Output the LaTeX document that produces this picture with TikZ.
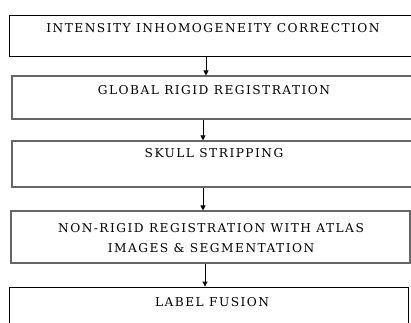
\documentclass[tikz,border=0pt]{standalone}
\usepackage{fontspec}
\setmainfont{DejaVu Serif}
\usetikzlibrary{arrows.meta}
\tikzstyle{stagebox}=[
    draw=black!60,
    line width=1.1pt,
    inner sep=0pt,
]
\tikzstyle{stagetext}=[
    font=\fontsize{12.2}{19.5}\selectfont\addfontfeature{LetterSpace=12},
    align=center,
    inner sep=0pt,
]
\tikzstyle{flow}=[
    ->, >={Triangle[width=5pt,length=5pt]},
    line width=0.9pt,
]

\begin{document}
\begin{tikzpicture}[x=1pt, y=-1pt]
        \useasboundingbox (0,0) rectangle (411,322);
        \clip (0,0) rectangle (411,322);
        \node[stagebox, draw=black, line width=0.9pt, minimum width=416pt, minimum height=41pt] (b1) at (217, 35.5) {};
        \node[stagebox, minimum width=413pt, minimum height=43pt] (b2) at (218.5, 97.5) {};
        \node[stagebox, minimum width=413pt, minimum height=46pt] (b3) at (218.5, 164) {};
        \node[stagebox, minimum width=399pt, minimum height=52pt] (b4) at (210.5, 237) {};
        \node[stagebox, draw=black, line width=0.9pt, minimum width=399pt, minimum height=46pt] (b5) at (208.5, 310) {};
        \node[stagetext] (t1) at (213, 28) {INTENSITY INHOMOGENEITY CORRECTION};
        \node[stagetext] (t2) at (214, 90.5) {GLOBAL RIGID REGISTRATION};
        \node[stagetext] (t3) at (214, 153.5) {SKULL STRIPPING};
        \node[stagetext] (t4) at (211, 238) {NON-RIGID REGISTRATION WITH ATLAS\\IMAGES \& SEGMENTATION};
        \node[stagetext] (t5) at (212, 302.5) {LABEL FUSION};
        \draw[flow] ([xshift=-11pt]b1.south) -- ([xshift=-12.5pt]b2.north);
        \draw[flow] ([xshift=-15.5pt]b2.south) -- ([xshift=-15.5pt]b3.north);
        \draw[flow] ([xshift=-15.5pt]b3.south) -- ([xshift=-7.5pt]b4.north);
        \draw[flow] ([xshift=-5.5pt]b4.south) -- ([xshift=-3.5pt]b5.north);
    \end{tikzpicture}
\end{document}
